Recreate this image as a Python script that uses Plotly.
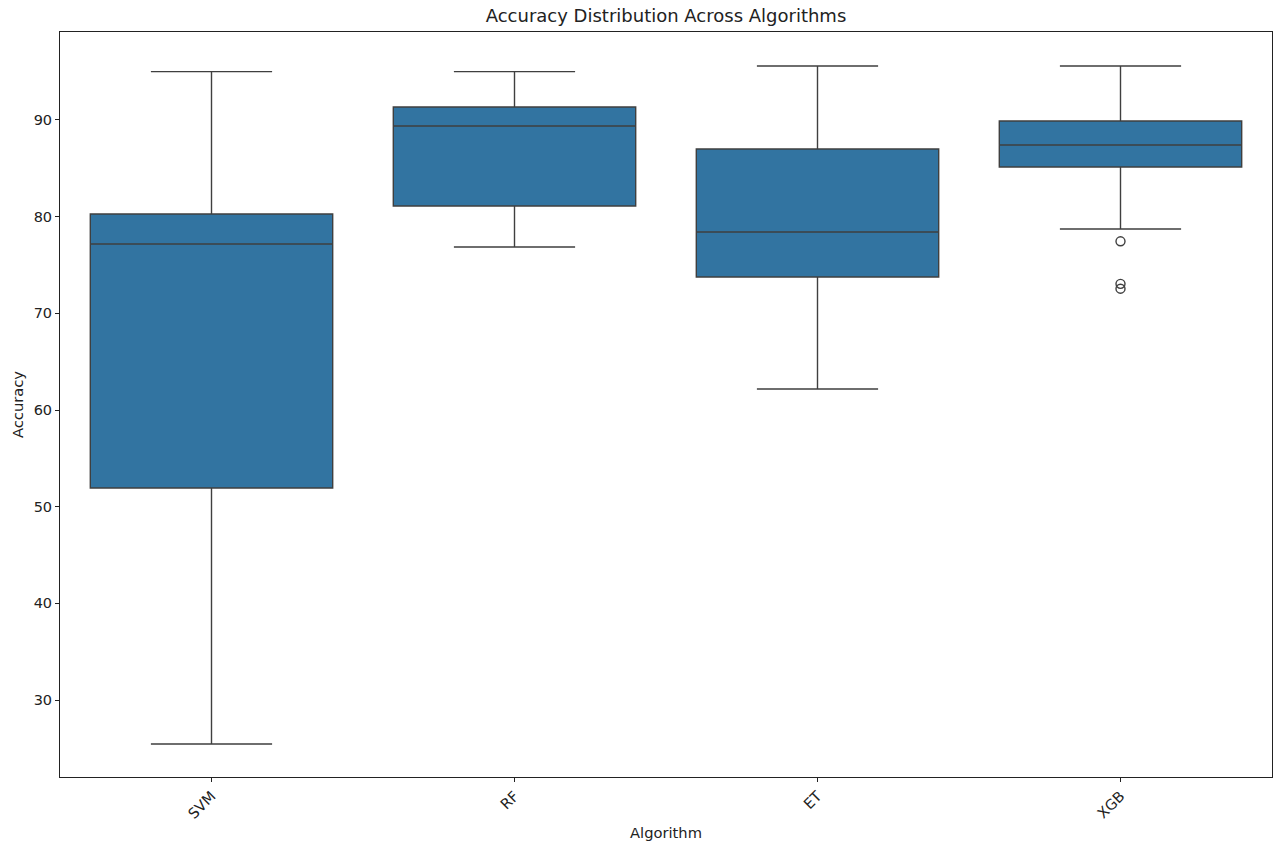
import plotly.graph_objects as go

# Per-algorithm accuracy summary (five-number summary) and outliers
algorithms = ["SVM", "RF", "ET", "XGB"]
lower_whisker = [25.45, 76.86, 62.17, 78.72]
q1 = [51.93, 81.10, 73.76, 85.14]
median = [77.17, 89.38, 78.41, 87.41]
q3 = [80.28, 91.34, 87.00, 89.90]
upper_whisker = [95.00, 95.00, 95.59, 95.59]

outlier_algorithm = ["XGB", "XGB", "XGB"]
outlier_accuracy = [77.45, 73.05, 72.55]

BOX_FILL = "#3274a1"
LINE = "#3f3f3f"

fig = go.Figure()
fig.add_trace(go.Box(
    x=algorithms,
    q1=q1, median=median, q3=q3,
    lowerfence=lower_whisker, upperfence=upper_whisker,
    fillcolor=BOX_FILL,
    line=dict(color=LINE, width=1.4),
    width=0.8,
    whiskerwidth=0.5,
    boxpoints=False,
    showlegend=False,
    hoverinfo="y",
))
fig.add_trace(go.Scatter(
    x=outlier_algorithm, y=outlier_accuracy,
    mode="markers",
    marker=dict(symbol="circle-open", size=9, color=LINE, line=dict(width=1.4)),
    showlegend=False,
))

tick_font = dict(family="DejaVu Sans", size=14.5, color="#222222")
label_font = dict(family="DejaVu Sans", size=14.7, color="#222222")
fig.update_layout(
    width=1273, height=845,
    margin=dict(l=60, r=1, t=32, b=68),
    plot_bgcolor="white", paper_bgcolor="white",
    font=dict(family="DejaVu Sans", size=14.5, color="#222222"),
    title=dict(text="Accuracy Distribution Across Algorithms",
               x=0.5, xanchor="center", y=1 - 16 / 845, yanchor="middle",
               xref="paper", font=dict(size=18, color="#222222")),
    xaxis=dict(
        range=[-0.5, 3.5], showgrid=False, zeroline=False,
        showline=True, linecolor="#222222", linewidth=1, mirror=True,
        ticks="outside", ticklen=4, tickcolor="#222222", tickangle=-45,
        tickfont=tick_font,
        title=dict(text="Algorithm", font=label_font, standoff=6),
    ),
    yaxis=dict(
        range=[22.04, 99.1], showgrid=False, zeroline=False,
        showline=True, linecolor="#222222", linewidth=1, mirror=True,
        ticks="outside", ticklen=4, tickcolor="#222222",
        tickvals=[30, 40, 50, 60, 70, 80, 90],
        tickfont=tick_font,
        title=dict(text="Accuracy", font=label_font, standoff=6),
    ),
)

fig.write_html("out.html")
